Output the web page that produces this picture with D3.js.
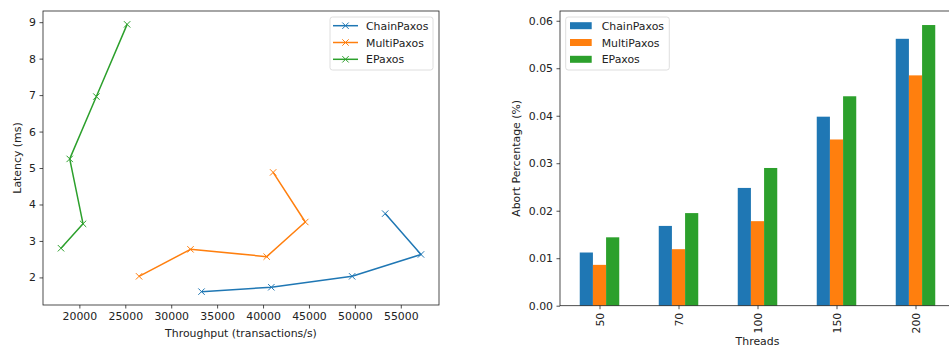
<!DOCTYPE html>
<html>
<head>
<meta charset="utf-8">
<script src="https://cdn.jsdelivr.net/npm/d3@7"></script>
<style>
  body { margin: 0; background: #fff; }
  svg { display: block; font-family: "DejaVu Sans", sans-serif; }
</style>
</head>
<body>
<svg id="chart" width="949" height="347"></svg>
<script>
// data
const SERIES = ["ChainPaxos", "MultiPaxos", "EPaxos"];
const COLORS = ["#1f77b4", "#ff7f0e", "#2ca02c"];

const chainThroughput = [33300, 40900, 49700, 57200, 53300];
const chainLatency    = [1.61, 1.73, 2.03, 2.63, 3.75];
const multiThroughput = [26500, 32100, 40400, 44600, 41100];
const multiLatency    = [2.03, 2.77, 2.57, 3.52, 4.88];
const epaxThroughput  = [18000, 20400, 18950, 21850, 25200];
const epaxLatency     = [2.80, 3.47, 5.25, 6.96, 8.94];

const threads    = ["50", "70", "100", "150", "200"];
const chainAbort = [0.0112, 0.0168, 0.0248, 0.0398, 0.0562];
const multiAbort = [0.0086, 0.0119, 0.0178, 0.0350, 0.0485];
const epaxAbort  = [0.0144, 0.0195, 0.0290, 0.0441, 0.0591];

const xTicksLeft  = [20000, 25000, 30000, 35000, 40000, 45000, 50000, 55000];
const yTicksLeft  = [2, 3, 4, 5, 6, 7, 8, 9];
const yTicksRight = [0, 0.01, 0.02, 0.03, 0.04, 0.05, 0.06];

const FS = 10.9;
const svg = d3.select("#chart");

// ---------- left: latency vs throughput ----------
const L = { left: 43, right: 439, top: 11, bottom: 305 };

const lines = [
  chainThroughput.map((t, i) => [t, chainLatency[i]]),
  multiThroughput.map((t, i) => [t, multiLatency[i]]),
  epaxThroughput.map((t, i) => [t, epaxLatency[i]])
];

// matplotlib style 5% margins
function padded(vals) {
  const [a, b] = d3.extent(vals);
  const p = (b - a) * 0.05;
  return [a - p, b + p];
}
const allPts = lines.flat();
const xL = d3.scaleLinear().domain(padded(allPts.map(d => d[0]))).range([L.left, L.right]);
const yL = d3.scaleLinear().domain(padded(allPts.map(d => d[1]))).range([L.bottom, L.top]);

const gL = svg.append("g");

function styleAxis(g) {
  g.select(".domain").remove();
  g.selectAll("text").attr("font-size", FS).attr("fill", "#222").attr("font-family", "DejaVu Sans");
  g.selectAll("line").attr("stroke", "#222").attr("stroke-width", 0.8);
}

gL.append("g")
  .attr("transform", `translate(0,${L.bottom})`)
  .call(d3.axisBottom(xL).tickValues(xTicksLeft).tickFormat(d3.format("d")).tickSize(3.5).tickPadding(3.5))
  .call(styleAxis);

gL.append("g")
  .attr("transform", `translate(${L.left},0)`)
  .call(d3.axisLeft(yL).tickValues(yTicksLeft).tickFormat(d3.format("d")).tickSize(3.5).tickPadding(3.5))
  .call(styleAxis);

const lineGen = d3.line().x(d => xL(d[0])).y(d => yL(d[1]));

function xMarker(g, cx, cy, color, r = 3.2) {
  g.append("path")
    .attr("d", `M${cx - r},${cy - r}L${cx + r},${cy + r}M${cx - r},${cy + r}L${cx + r},${cy - r}`)
    .attr("stroke", color).attr("stroke-width", 1).attr("fill", "none");
}

lines.forEach((pts, i) => {
  gL.append("path")
    .datum(pts)
    .attr("d", lineGen)
    .attr("fill", "none")
    .attr("stroke", COLORS[i])
    .attr("stroke-width", 1.5)
    .attr("stroke-linejoin", "round");
  pts.forEach(p => xMarker(gL, xL(p[0]), yL(p[1]), COLORS[i]));
});

gL.append("rect")
  .attr("x", L.left).attr("y", L.top)
  .attr("width", L.right - L.left).attr("height", L.bottom - L.top)
  .attr("fill", "none").attr("stroke", "#222").attr("stroke-width", 0.8);

gL.append("text")
  .attr("x", (L.left + L.right) / 2).attr("y", 337)
  .attr("text-anchor", "middle").attr("font-size", FS).attr("fill", "#222")
  .text("Throughput (transactions/s)");

gL.append("text")
  .attr("transform", `translate(21,${(L.top + L.bottom) / 2}) rotate(-90)`)
  .attr("text-anchor", "middle").attr("font-size", FS).attr("fill", "#222")
  .text("Latency (ms)");

// legend (left)
const legL = gL.append("g");
legL.append("rect")
  .attr("x", 330).attr("y", 17).attr("width", 103).attr("height", 53)
  .attr("rx", 2.5).attr("fill", "#fff").attr("fill-opacity", 0.8)
  .attr("stroke", "#d6d6d6").attr("stroke-width", 0.8);
SERIES.forEach((s, i) => {
  const cy = 25.7 + i * 16.8;
  legL.append("line")
    .attr("x1", 333).attr("x2", 358).attr("y1", cy).attr("y2", cy)
    .attr("stroke", COLORS[i]).attr("stroke-width", 1.5);
  xMarker(legL, 345.5, cy, COLORS[i]);
  legL.append("text")
    .attr("x", 366).attr("y", cy + 4)
    .attr("font-size", FS).attr("fill", "#222").text(s);
});

// ---------- right: abort percentage bars ----------
const R = { left: 560, right: 955, top: 11, bottom: 305.7 };
const abortSeries = [chainAbort, multiAbort, epaxAbort];

const xR = d3.scaleLinear().domain([-0.5, threads.length - 0.5]).range([R.left, R.right]);
const yMax = d3.max(abortSeries.flat()) * 1.05;
const yR = d3.scaleLinear().domain([0, yMax]).range([R.bottom, R.top]);

const gR = svg.append("g");
const barW = 0.5 / SERIES.length;

abortSeries.forEach((vals, si) => {
  gR.selectAll(null)
    .data(vals)
    .enter()
    .append("rect")
    .attr("x", (d, i) => xR(i - 0.25 + si * barW))
    .attr("width", xR(barW) - xR(0))
    .attr("y", d => yR(d))
    .attr("height", d => yR(0) - yR(d))
    .attr("fill", COLORS[si]);
});

gR.append("g")
  .attr("transform", `translate(0,${R.bottom})`)
  .call(d3.axisBottom(xR).tickValues(d3.range(threads.length)).tickFormat(i => threads[i]).tickSize(3.5).tickPadding(3.5))
  .call(styleAxis)
  .call(g => g.selectAll("text")
    .attr("transform", "rotate(-90)")
    .attr("text-anchor", "end")
    .attr("x", -7).attr("y", 0).attr("dy", "0.35em"));

gR.append("g")
  .attr("transform", `translate(${R.left},0)`)
  .call(d3.axisLeft(yR).tickValues(yTicksRight).tickFormat(d3.format(".2f")).tickSize(3.5).tickPadding(3.5))
  .call(styleAxis);

gR.append("rect")
  .attr("x", R.left).attr("y", R.top)
  .attr("width", R.right - R.left).attr("height", R.bottom - R.top)
  .attr("fill", "none").attr("stroke", "#222").attr("stroke-width", 0.8);

gR.append("text")
  .attr("x", (R.left + R.right) / 2).attr("y", 345)
  .attr("text-anchor", "middle").attr("font-size", FS).attr("fill", "#222")
  .text("Threads");

gR.append("text")
  .attr("transform", `translate(520,${(R.top + R.bottom) / 2}) rotate(-90)`)
  .attr("text-anchor", "middle").attr("font-size", FS).attr("fill", "#222")
  .text("Abort Percentage (%)");

// legend (right)
const legR = gR.append("g");
legR.append("rect")
  .attr("x", 565.7).attr("y", 17).attr("width", 103.6).attr("height", 53)
  .attr("rx", 2.5).attr("fill", "#fff").attr("fill-opacity", 0.8)
  .attr("stroke", "#d6d6d6").attr("stroke-width", 0.8);
SERIES.forEach((s, i) => {
  const cy = 25.7 + i * 16.8;
  legR.append("rect")
    .attr("x", 570).attr("y", cy - 3.5).attr("width", 21.7).attr("height", 7)
    .attr("fill", COLORS[i]);
  legR.append("text")
    .attr("x", 601.7).attr("y", cy + 4)
    .attr("font-size", FS).attr("fill", "#222").text(s);
});
</script>
</body>
</html>
